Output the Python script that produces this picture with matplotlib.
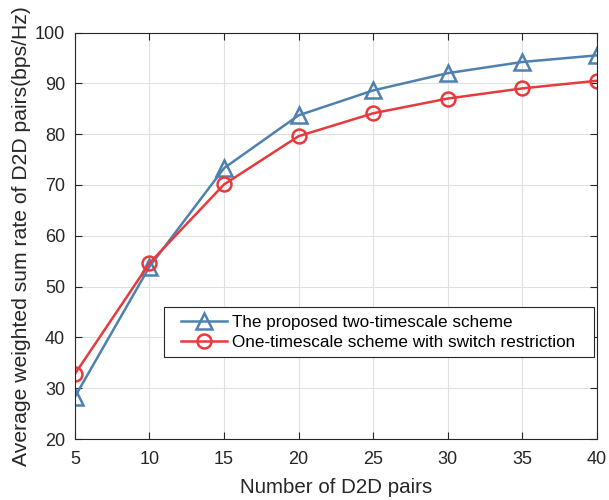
import numpy as np
import matplotlib
matplotlib.use("Agg")
import matplotlib.pyplot as plt
from matplotlib.patches import Rectangle

plt.rcParams['font.family'] = ['Liberation Sans', 'DejaVu Sans']

# Data
d2d_pairs = [5, 10, 15, 20, 25, 30, 35, 40]
two_timescale = [28.3, 53.9, 73.3, 83.7, 88.6, 92.0, 94.2, 95.5]
one_timescale = [32.8, 54.6, 70.1, 79.6, 84.1, 87.0, 89.0, 90.5]

labels = ["The proposed two-timescale scheme",
          "One-timescale scheme with switch restriction"]

dark = '#262626'

fig = plt.figure(figsize=(6.09, 5.0), dpi=100)
ax = fig.add_axes([0.123, 0.122, 0.857, 0.813])

ax.plot(d2d_pairs, two_timescale, color='#4f81b0', lw=1.8, marker='^',
        ms=11, mfc='none', mew=1.8, label=labels[0])
ax.plot(d2d_pairs, one_timescale, color='#e8393d', lw=1.8, marker='o',
        ms=10, mfc='none', mew=1.8, label=labels[1])

ax.set_xlim(5, 40)
ax.set_ylim(20, 100)
ax.set_xticks(np.arange(5, 41, 5))
ax.set_yticks(np.arange(20, 101, 10))
ax.grid(True, color='#e0e0e0', lw=0.8)
ax.set_axisbelow(True)
ax.tick_params(direction='in', top=True, right=True, labelsize=13,
               length=5, colors=dark)
ax.tick_params(axis='x', pad=9)
ax.tick_params(axis='y', pad=7)
for s in ax.spines.values():
    s.set_color(dark)
    s.set_linewidth(0.8)

ax.set_xlabel("Number of D2D pairs", fontsize=14.8, color=dark, labelpad=7)
ax.set_ylabel("Average weighted sum rate of D2D pairs(bps/Hz)", fontsize=15.2,
              color=dark, labelpad=3)

# legend box drawn separately so the inner padding can match the original
ax.add_patch(Rectangle((0.1705, 0.2026), 0.825, 0.123, transform=ax.transAxes,
                       facecolor='white', edgecolor=dark, lw=0.8, zorder=4))
leg = ax.legend(loc='center left', bbox_to_anchor=(0.2025, 0.262),
                fontsize=12.3, frameon=False, borderpad=0, borderaxespad=0,
                handlelength=2.7, handletextpad=0.33, labelspacing=0.3)
leg.set_zorder(5)

fig.savefig("out.png", dpi=100)
